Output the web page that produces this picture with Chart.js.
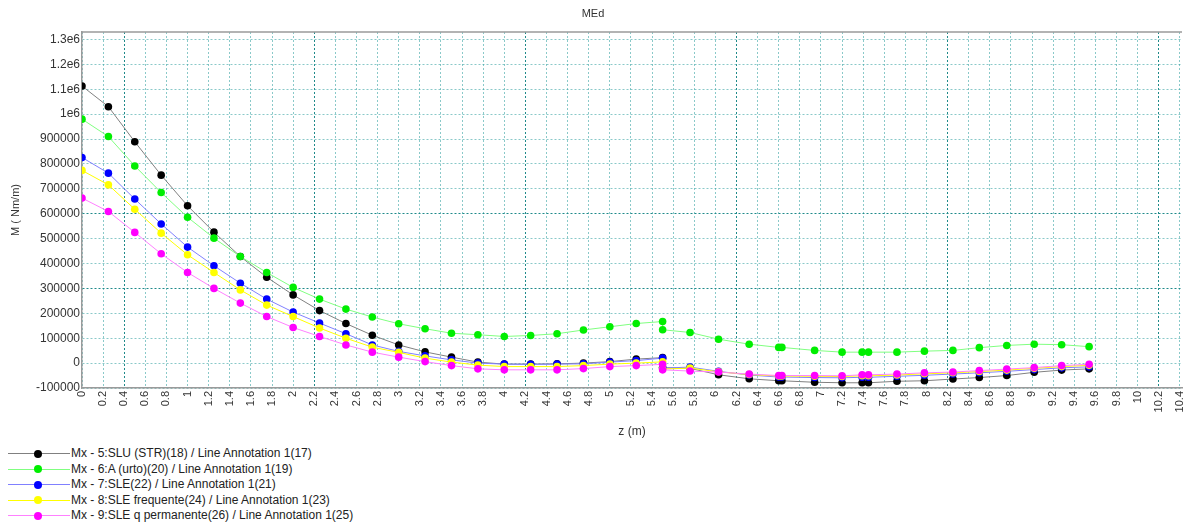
<!DOCTYPE html>
<html>
<head>
<meta charset="utf-8">
<script src="https://cdn.jsdelivr.net/npm/chart.js@4.4.1/dist/chart.umd.min.js"></script>
<style>
  html, body { margin: 0; padding: 0; background: #fff; width: 1186px; height: 522px; overflow: hidden; }
  #wrap { position: relative; width: 1186px; height: 522px; }
  #c { position: absolute; left: 0; top: 0; }
  #legend { position: absolute; left: 0; top: 446px; font-family: "Liberation Sans", Arial, sans-serif; font-size: 12px; color: #222; }
  .row { position: relative; height: 15.5px; line-height: 15.5px; white-space: nowrap; }
  .ln { position: absolute; left: 8px; top: 7px; width: 62px; height: 1px; }
  .mk { position: absolute; left: 34px; top: 3.5px; width: 8px; height: 8px; border-radius: 50%; }
  .tx { position: absolute; left: 71px; top: 0; }
</style>
</head>
<body>
<div id="wrap">
  <canvas id="c" width="1186" height="442"></canvas>
  <div id="legend"></div>
</div>
<script>
// ---- data ----
const zValues = [0, 0.25, 0.5, 0.75, 1.0, 1.25, 1.5, 1.75, 2.0, 2.25, 2.5, 2.75, 3.0, 3.25, 3.5, 3.75, 4.0, 4.25, 4.5, 4.75, 5.0, 5.25, 5.5,
                 5.5, 5.76, 6.03, 6.32, 6.6, 6.63, 6.94, 7.2, 7.39, 7.45, 7.72, 7.98, 8.25, 8.5, 8.76, 9.02, 9.28, 9.54];

const seriesLabels = [
  "Mx - 5:SLU (STR)(18) / Line Annotation 1(17)",
  "Mx - 6:A (urto)(20) / Line Annotation 1(19)",
  "Mx - 7:SLE(22) / Line Annotation 1(21)",
  "Mx - 8:SLE frequente(24) / Line Annotation 1(23)",
  "Mx - 9:SLE q permanente(26) / Line Annotation 1(25)"
];

const sluStr = [1113000, 1030000, 889000, 755000, 632000, 526000, 428000, 345000, 274000, 211000, 159000, 112000, 73000, 45000, 24000, 4000, -4000, -4000, -3000, 0, 6000, 16000, 22000,
                -18000, -21000, -47000, -63000, -71000, -71000, -77000, -79000, -79000, -79000, -73000, -71000, -64000, -58000, -50000, -37000, -28000, -23000];
const urto = [980000, 910000, 792000, 685000, 586000, 502000, 428000, 364000, 304000, 257000, 217000, 185000, 158000, 138000, 120000, 114000, 107000, 111000, 118000, 133000, 146000, 159000, 167000,
              134000, 123000, 96000, 76000, 63000, 63000, 51000, 44000, 44000, 44000, 44000, 48000, 51000, 62000, 71000, 76000, 74000, 66000];
const sle = [826000, 763000, 659000, 559000, 466000, 391000, 321000, 257000, 205000, 161000, 118000, 73000, 47000, 29000, 13000, 0, -4000, -5000, -4000, -3000, 4000, 10000, 20000,
             -20000, -16000, -33000, -48000, -56000, -56000, -58000, -59000, -57000, -57000, -53000, -49000, -44000, -39000, -33000, -26000, -19000, -15000];
const sleFreq = [774000, 716000, 618000, 522000, 435000, 364000, 294000, 233000, 187000, 141000, 100000, 64000, 43000, 20000, 4000, -8000, -14000, -14000, -14000, -10000, -4000, 0, 5000,
                 -24000, -20000, -35000, -46000, -52000, -52000, -53000, -54000, -51000, -51000, -48000, -43000, -39000, -34000, -28000, -21000, -14000, -9000];
const sleQp = [663000, 609000, 525000, 439000, 364000, 300000, 241000, 187000, 143000, 107000, 73000, 44000, 24000, 6000, -10000, -23000, -27000, -27000, -27000, -22000, -14000, -10000, -5000,
               -27000, -32000, -36000, -44000, -50000, -50000, -50000, -51000, -47000, -47000, -44000, -39000, -36000, -30000, -24000, -18000, -10000, -5000];

const yTickValues = [-100000, 0, 100000, 200000, 300000, 400000, 500000, 600000, 700000, 800000, 900000, 1000000, 1100000, 1200000, 1300000];

// ---- styles ----
const lineColors = ["#808080", "#80ff80", "#8080ff", "#ffff00", "#ff80ff"];
const pointColors = ["#000000", "#00ee00", "#0000ff", "#ffff00", "#ff00ff"];
const seriesValues = [sluStr, urto, sle, sleFreq, sleQp];

const datasets = seriesValues.map((vals, i) => ({
  label: seriesLabels[i],
  data: vals.map((v, k) => ({ x: zValues[k], y: v })),
  borderColor: lineColors[i],
  backgroundColor: pointColors[i],
  pointBackgroundColor: pointColors[i],
  pointBorderColor: pointColors[i],
  pointRadius: 3.8,
  pointBorderWidth: 0,
  borderWidth: 1,
  tension: 0,
  order: 5 - i
}));

const darkX = [0.4, 2.2, 4.2, 6.2, 8.2, 10.2];
const darkY = [300000, 600000];
const gridLight = "rgba(60,165,165,0.6)";
const gridDark = "#1f8a8a";

const topBorder = {
  id: 'topBorder',
  beforeDatasetsDraw(chart) {
    const { ctx, chartArea } = chart;
    ctx.save();
    ctx.strokeStyle = "#9a9a9a";
    ctx.lineWidth = 1.5;
    ctx.setLineDash([]);
    ctx.beginPath();
    ctx.moveTo(chartArea.left, chartArea.top);
    ctx.lineTo(chartArea.right, chartArea.top);
    ctx.stroke();
    ctx.restore();
  }
};

const chart = new Chart(document.getElementById('c'), {
  type: 'line',
  data: { datasets },
  plugins: [topBorder],
  options: {
    responsive: false,
    animation: false,
    devicePixelRatio: 1,
    layout: { padding: { left: 0, right: 0, top: 0, bottom: 0 } },
    plugins: {
      legend: { display: false },
      tooltip: { enabled: false },
      title: {
        display: true,
        text: 'MEd',
        color: '#333',
        font: { family: 'Liberation Sans, Arial, sans-serif', size: 11, weight: 'normal' },
        padding: { top: 7.4, bottom: 11.4 }
      }
    },
    scales: {
      x: {
        type: 'linear',
        min: 0,
        max: 10.42,
        afterFit(scale) { scale.height = 54; scale.paddingRight = 0; scale.paddingLeft = 0; },
        afterBuildTicks(scale) {
          scale.ticks = scale.ticks.filter(t => Math.abs(t.value * 5 - Math.round(t.value * 5)) < 1e-6);
        },
        ticks: {
          stepSize: 0.2,
          includeBounds: false,
          autoSkip: false,
          maxRotation: 90,
          minRotation: 90,
          padding: 3,
          color: '#333',
          font: { family: 'Liberation Sans, Arial, sans-serif', size: 11 },
          callback: (v) => String(Math.round(v * 10) / 10)
        },
        grid: {
          drawTicks: false,
          lineWidth: 1,
          color: (ctx) => {
            const v = ctx.tick ? ctx.tick.value : null;
            return (v !== null && darkX.some(d => Math.abs(d - v) < 1e-6)) ? gridDark : gridLight;
          }
        },
        border: { display: true, color: '#9a9a9a', width: 1.5, dash: [2, 2] },
        title: {
          display: true,
          text: 'z (m)',
          color: '#333',
          font: { family: 'Liberation Sans, Arial, sans-serif', size: 12 },
          padding: { top: 0, bottom: 3.4 }
        }
      },
      y: {
        type: 'linear',
        min: -100000,
        max: 1330000,
        afterFit(scale) { scale.width = 82; },
        afterBuildTicks(scale) {
          scale.ticks = yTickValues.map(v => ({ value: v }));
        },
        ticks: {
          includeBounds: false,
          autoSkip: false,
          padding: 2,
          color: '#333',
          font: { family: 'Liberation Sans, Arial, sans-serif', size: 12 },
          callback: (v) => v >= 1000000 ? (Math.round(v / 100000) / 10) + 'e6' : String(v)
        },
        grid: {
          drawTicks: false,
          lineWidth: 1,
          color: (ctx) => {
            const v = ctx.tick ? ctx.tick.value : null;
            return (v !== null && darkY.includes(v)) ? gridDark : gridLight;
          }
        },
        border: { display: true, color: '#9a9a9a', width: 1.5, dash: [2, 2] },
        title: {
          display: true,
          text: 'M ( Nm/m)',
          color: '#333',
          font: { family: 'Liberation Sans, Arial, sans-serif', size: 11 },
          padding: { top: 9.4, bottom: 0 }
        }
      }
    }
  }
});

// ---- HTML legend built from the chart's datasets ----
const legendEl = document.getElementById('legend');
chart.data.datasets.forEach(ds => {
  const row = document.createElement('div');
  row.className = 'row';
  const ln = document.createElement('span'); ln.className = 'ln'; ln.style.background = ds.borderColor;
  const mk = document.createElement('span'); mk.className = 'mk'; mk.style.background = ds.pointBackgroundColor;
  const tx = document.createElement('span'); tx.className = 'tx'; tx.textContent = ds.label;
  row.appendChild(ln); row.appendChild(mk); row.appendChild(tx);
  legendEl.appendChild(row);
});
</script>
</body>
</html>
